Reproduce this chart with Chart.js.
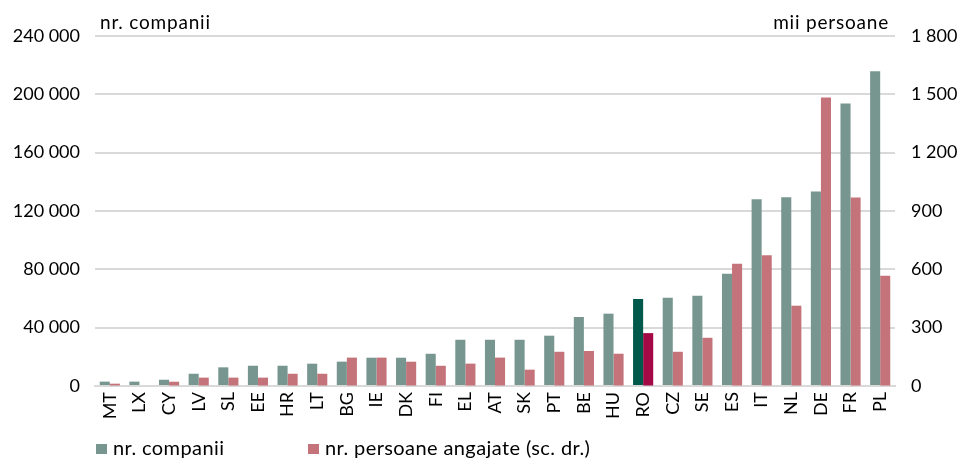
<!DOCTYPE html>
<html lang="ro">
<head>
<meta charset="utf-8">
<script src="https://cdn.jsdelivr.net/npm/chart.js@4.4.1/dist/chart.umd.min.js"></script>
<style>
  html, body { margin: 0; padding: 0; background: #fff; }
  #wrap { position: relative; width: 960px; height: 459px; }
  #legend { position: absolute; left: 0; top: 435px; width: 960px; height: 24px;
            font-family: Lato, "Liberation Sans", sans-serif; font-size: 20px; color: #000; letter-spacing: 0.4px; }
  .item { position: absolute; top: 0; white-space: nowrap; }
  .sw { position: absolute; top: 9px; width: 11px; height: 10px; }
  .lbl { position: absolute; left: 17px; top: 0; line-height: 24px; }
</style>
</head>
<body>
<div id="wrap">
  <canvas id="c" width="960" height="459"></canvas>
  <div id="legend"></div>
</div>
<script>
// Countries, ordered by number of companies
const categories = ['MT','LX','CY','LV','SL','EE','HR','LT','BG','IE','DK','FI','EL','AT','SK','PT','BE','HU','RO','CZ','SE','ES','IT','NL','DE','FR','PL'];
// Number of companies (left axis)
const companies = [3000, 3000, 4300, 8400, 12800, 13900, 13900, 15300, 16700, 19400, 19400, 22100, 31700, 31700, 31700, 34500, 47300, 49600, 59700, 60600, 61900, 77000, 128000, 129400, 133300, 193800, 215800];
// Persons employed, thousands (right axis)
const employees = [12, 0, 22, 43, 43, 43, 63, 63, 146, 146, 125, 104, 115, 146, 84, 176, 180, 166, 272, 176, 248, 629, 672, 413, 1484, 970, 567];
// Axis tick values
const leftTicks = [0, 40000, 80000, 120000, 160000, 200000, 240000];
const rightTicks = [0, 300, 600, 900, 1200, 1500, 1800];

const highlight = 'RO';
const labelCompanies = 'nr. companii';
const labelEmployees = 'nr. persoane angajate (sc. dr.)';

const GREEN = '#77968f', GREEN_HI = '#00594b';
const RED = '#c5737a', RED_HI = '#a30a45';
const FONT = 'Lato, "Liberation Sans", sans-serif';

const greenColors = categories.map(c => c === highlight ? GREEN_HI : GREEN);
const redColors = categories.map(c => c === highlight ? RED_HI : RED);

const fmt = v => String(v).replace(/\B(?=(\d{3})+(?!\d))/g, ' ');

// Unit captions above both value axes
const unitCaptions = {
  id: 'unitCaptions',
  afterDraw(chart) {
    const { ctx, chartArea } = chart;
    ctx.save();
    ctx.font = '19px ' + FONT;
    if ('letterSpacing' in ctx) ctx.letterSpacing = '0.8px';
    ctx.fillStyle = '#000';
    ctx.textBaseline = 'alphabetic';
    ctx.textAlign = 'left';
    ctx.fillText('nr. companii', chartArea.left + 5, 29);
    ctx.textAlign = 'right';
    ctx.fillText('mii persoane', chartArea.right - 6, 29);
    ctx.restore();
  }
};

const chart = new Chart(document.getElementById('c'), {
  type: 'bar',
  data: {
    labels: categories,
    datasets: [
      { label: labelCompanies, data: companies, backgroundColor: greenColors, yAxisID: 'y' },
      { label: labelEmployees, data: employees, backgroundColor: redColors, yAxisID: 'y1' }
    ]
  },
  options: {
    responsive: false,
    animation: false,
    devicePixelRatio: 1,
    layout: { padding: { top: 36, bottom: 33, left: 0, right: 0 } },
    datasets: { bar: { categoryPercentage: 0.68, barPercentage: 1.0 } },
    plugins: { legend: { display: false }, tooltip: { enabled: false } },
    scales: {
      x: {
        grid: { display: false, drawTicks: false },
        border: { display: true, color: '#d9d9d9', width: 2 },
        ticks: { minRotation: 90, maxRotation: 90, padding: 6, color: '#000', font: { family: FONT, size: 18 } },
        afterFit(s) { s.height = 40; }
      },
      y: {
        position: 'left',
        min: 0, max: 240000,
        afterBuildTicks(s) { s.ticks = leftTicks.map(v => ({ value: v })); },
        grid: { color: '#d9d9d9', lineWidth: 2, drawTicks: false },
        border: { display: false },
        ticks: { padding: 15, color: '#000', font: { family: FONT, size: 18 }, callback: v => fmt(v) },
        afterFit(s) { s.width = 95; }
      },
      y1: {
        position: 'right',
        min: 0, max: 1800,
        afterBuildTicks(s) { s.ticks = rightTicks.map(v => ({ value: v })); },
        grid: { drawOnChartArea: false, drawTicks: false },
        border: { display: false },
        ticks: { padding: 16, color: '#000', font: { family: FONT, size: 18 }, callback: v => fmt(v) },
        afterFit(s) { s.width = 65; }
      }
    }
  },
  plugins: [unitCaptions]
});

// Legend built from the datasets
const legend = document.getElementById('legend');
const legendX = [96, 308];
chart.data.datasets.forEach((ds, i) => {
  const item = document.createElement('div');
  item.className = 'item';
  item.style.left = legendX[i] + 'px';
  const sw = document.createElement('span');
  sw.className = 'sw';
  sw.style.background = i === 0 ? GREEN : RED;
  const lbl = document.createElement('span');
  lbl.className = 'lbl';
  lbl.textContent = ds.label;
  item.appendChild(sw);
  item.appendChild(lbl);
  legend.appendChild(item);
});
</script>
</body>
</html>
